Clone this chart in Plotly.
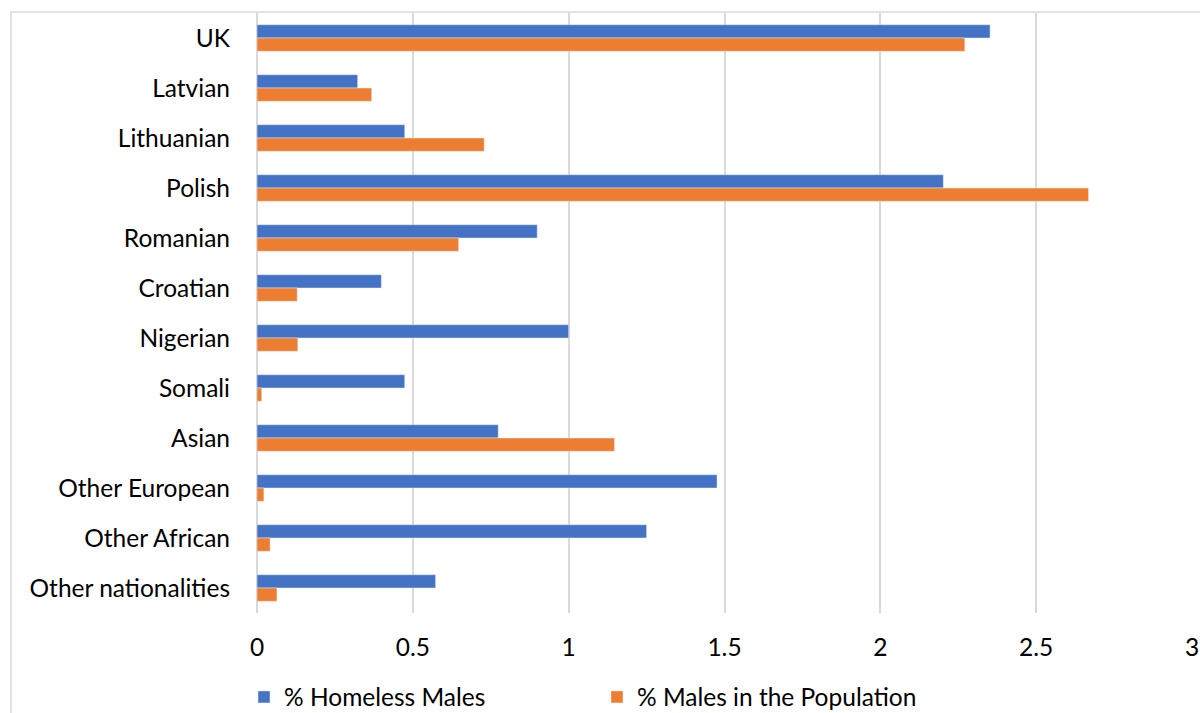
import plotly.graph_objects as go

categories = ["UK", "Latvian", "Lithuanian", "Polish", "Romanian", "Croatian",
              "Nigerian", "Somali", "Asian", "Other European", "Other African",
              "Other nationalities"]
homeless_males = [2.352, 0.323, 0.474, 2.202, 0.899, 0.399, 1.0, 0.474, 0.774, 1.476, 1.25, 0.573]
males_population = [2.271, 0.368, 0.729, 2.668, 0.647, 0.129, 0.131, 0.015, 1.147, 0.022, 0.042, 0.064]
x_ticks = [0, 0.5, 1, 1.5, 2, 2.5, 3]
x_tick_labels = ["0", "0.5", "1", "1.5", "2", "2.5", "3"]

W, H = 1200, 713
L, R, T, B = 257, 8, 13, 100
pw, ph = W - L - R, H - T - B

def px_x(p):
    return (p - L) / pw

def px_y(p):
    return (H - B - p) / ph

FONT = "Lato, Carlito, Calibri, sans-serif"
FS = 24.5

fig = go.Figure()
fig.add_trace(go.Bar(y=categories, x=homeless_males, orientation="h",
                     name="% Homeless Males", marker_color="#4472C4"))
fig.add_trace(go.Bar(y=categories, x=males_population, orientation="h",
                     name="% Males in the Population", marker_color="#ED7D31"))

fig.update_layout(
    width=W, height=H,
    margin=dict(l=L, r=R, t=T, b=B, pad=0, autoexpand=False),
    paper_bgcolor="white", plot_bgcolor="white",
    barmode="group", bargap=0.47, bargroupgap=0,
    font=dict(family=FONT, size=FS, color="#000000"),
    showlegend=True,
    legend=dict(orientation="h", x=px_x(244), xanchor="left",
                y=px_y(697), yanchor="middle",
                font=dict(family=FONT, size=FS, color="#000000"),
                entrywidth=308, entrywidthmode="pixels",
                bgcolor="rgba(0,0,0,0)", itemclick=False),
    xaxis=dict(range=[0, 3], tickvals=x_ticks, ticktext=x_tick_labels,
               showgrid=True, gridcolor="#d9d9d9", gridwidth=2,
               zeroline=True, zerolinecolor="#d9d9d9", zerolinewidth=2,
               showline=False, ticks="", ticklabelstandoff=17,
               tickfont=dict(family=FONT, size=FS, color="#000000"),
               fixedrange=True),
    yaxis=dict(categoryorder="array", categoryarray=categories,
               autorange="reversed", showgrid=False, zeroline=False,
               showline=False, ticks="", ticklabelstandoff=26,
               tickfont=dict(family=FONT, size=FS, color="#000000"),
               fixedrange=True),
    shapes=[dict(type="rect", xref="paper", yref="paper",
                 x0=px_x(11), x1=px_x(1215), y0=px_y(730), y1=px_y(12),
                 line=dict(color="#d9d9d9", width=1.5), layer="below")],
)

fig.write_html("out.html")
